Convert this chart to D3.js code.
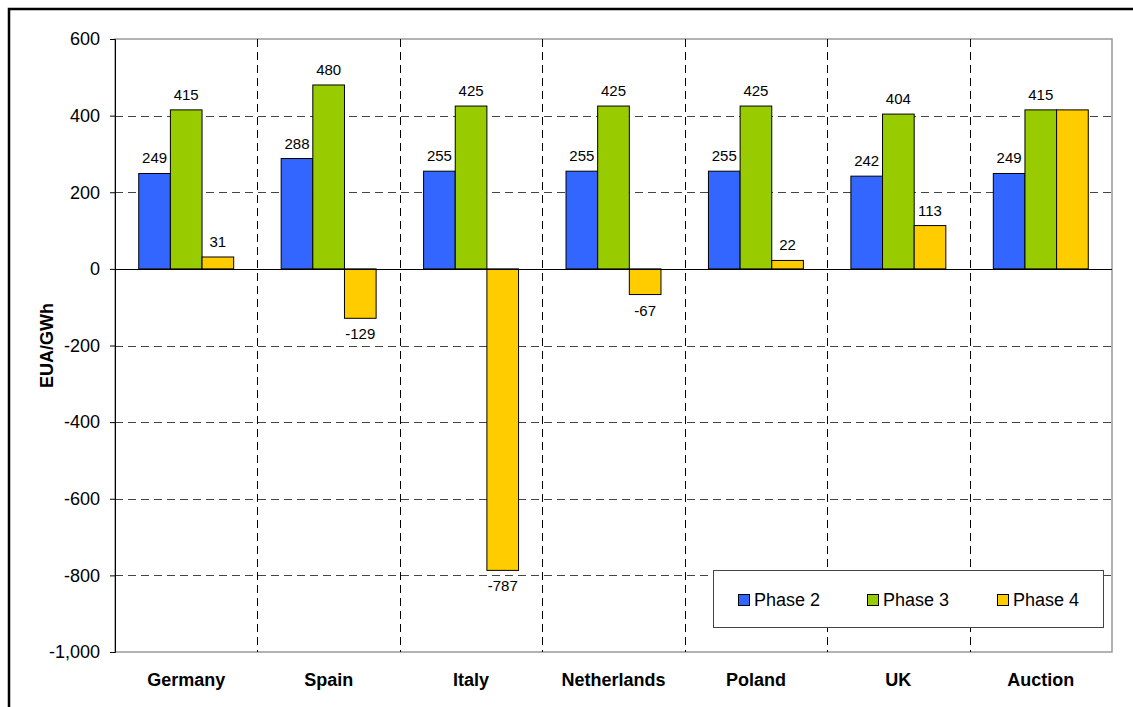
<!DOCTYPE html>
<html><head><meta charset="utf-8">
<script src="https://cdn.jsdelivr.net/npm/d3@7"></script>
<style>
body{margin:0;background:#fff;}
svg{display:block;font-family:"Liberation Sans",Arial,sans-serif;}
</style></head>
<body>
<svg id="c" width="1133" height="707"></svg>
<script>
const categories = ["Germany","Spain","Italy","Netherlands","Poland","UK","Auction"];
const seriesNames = ["Phase 2","Phase 3","Phase 4"];
const phase2 = [249,288,255,255,255,242,249];
const phase3 = [415,480,425,425,425,404,415];
const phase4 = [31,-129,-787,-67,22,113,415];
const showLabel4 = [true,true,true,true,true,true,false];
const yTicks = [600,400,200,0,-200,-400,-600,-800,-1000];
const colors = ["#3366FF","#99CC00","#FFCC00"];

const values = [phase2, phase3, phase4];
const svg = d3.select("#c");
const L = 115, R = 1112, T = 39, B = 652;

// outer frame
svg.append("rect").attr("x",9).attr("y",9).attr("width",1140).attr("height",720)
  .attr("fill","none").attr("stroke","#000").attr("stroke-width",2.5);

const x0 = d3.scaleBand().domain(categories).range([L,R]).paddingInner(0).paddingOuter(0);
const x1 = d3.scaleBand().domain(seriesNames).range([0,x0.bandwidth()]).paddingInner(0).paddingOuter(0.75);
const y = d3.scaleLinear().domain([-1000,600]).range([B,T]);

const fmt = v => d3.format(",")(v).replace("\u2212","-");

// plot area border (gray)
svg.append("rect").attr("x",L).attr("y",T).attr("width",R-L).attr("height",B-T)
  .attr("fill","none").attr("stroke","#999").attr("stroke-width",1.5);

// horizontal dashed gridlines
svg.append("g").selectAll("line").data(yTicks.filter(d=>d!==0 && d!==600 && d!==-1000)).join("line")
  .attr("x1",L).attr("x2",R).attr("y1",d=>Math.round(y(d))+0.5).attr("y2",d=>Math.round(y(d))+0.5)
  .attr("stroke","#444").attr("stroke-width",1).attr("stroke-dasharray","8,5");

// vertical dashed category separators
svg.append("g").selectAll("line").data(categories.slice(1)).join("line")
  .attr("x1",d=>Math.round(x0(d))+0.5).attr("x2",d=>Math.round(x0(d))+0.5)
  .attr("y1",T).attr("y2",B)
  .attr("stroke","#000").attr("stroke-width",1).attr("stroke-dasharray","8,5");

// bars
const data = [];
categories.forEach((c,i)=>seriesNames.forEach((s,j)=>data.push({c,s,j,i,v:values[j][i]})));
svg.append("g").selectAll("rect").data(data).join("rect")
  .attr("x",d=>x0(d.c)+x1(d.s))
  .attr("width",x1.bandwidth())
  .attr("y",d=>y(Math.max(0,d.v)))
  .attr("height",d=>Math.abs(y(d.v)-y(0)))
  .attr("fill",d=>colors[d.j]).attr("stroke","#000").attr("stroke-width",1);

// value labels
svg.append("g").selectAll("text").data(data.filter(d=>!(d.j===2 && !showLabel4[d.i]))).join("text")
  .attr("x",d=>x0(d.c)+x1(d.s)+x1.bandwidth()/2)
  .attr("y",d=>d.v>=0 ? y(d.v)-10 : y(d.v)+21)
  .attr("text-anchor","middle").attr("font-size",15).attr("fill","#000")
  .text(d=>fmt(d.v));

// zero axis line
svg.append("line").attr("x1",L).attr("x2",R).attr("y1",Math.round(y(0))+0.5).attr("y2",Math.round(y(0))+0.5)
  .attr("stroke","#000").attr("stroke-width",1);

// y axis
const yAxis = d3.axisLeft(y).tickValues(yTicks).tickSize(5).tickPadding(10).tickFormat(fmt);
const ga = svg.append("g").attr("transform",`translate(${L},0)`).call(yAxis);
ga.attr("font-size",18).attr("font-family","Liberation Sans, Arial, sans-serif");
ga.select(".domain").attr("stroke","#000");
ga.selectAll(".tick line").attr("stroke","#000");
ga.selectAll("text").attr("fill","#000");

// x category labels
svg.append("g").selectAll("text").data(categories).join("text")
  .attr("x",d=>x0(d)+x0.bandwidth()/2).attr("y",686)
  .attr("text-anchor","middle").attr("font-size",18).attr("font-weight","bold").text(d=>d);

// y axis title
svg.append("text").attr("transform",`translate(53,${(T+B)/2}) rotate(-90)`)
  .attr("text-anchor","middle").attr("font-size",18).attr("font-weight","bold").text("EUA/GWh");

// legend
const lg = svg.append("g");
lg.append("rect").attr("x",713.5).attr("y",570.5).attr("width",390).attr("height",57)
  .attr("fill","#fff").attr("stroke","#444").attr("stroke-width",1);
const lx = [738,867,997];
seriesNames.forEach((s,j)=>{
  lg.append("rect").attr("x",lx[j]+0.5).attr("y",594.5).attr("width",11).attr("height",11)
    .attr("fill",colors[j]).attr("stroke","#000");
  lg.append("text").attr("x",lx[j]+16).attr("y",606).attr("font-size",18).text(s);
});
</script>
</body></html>
